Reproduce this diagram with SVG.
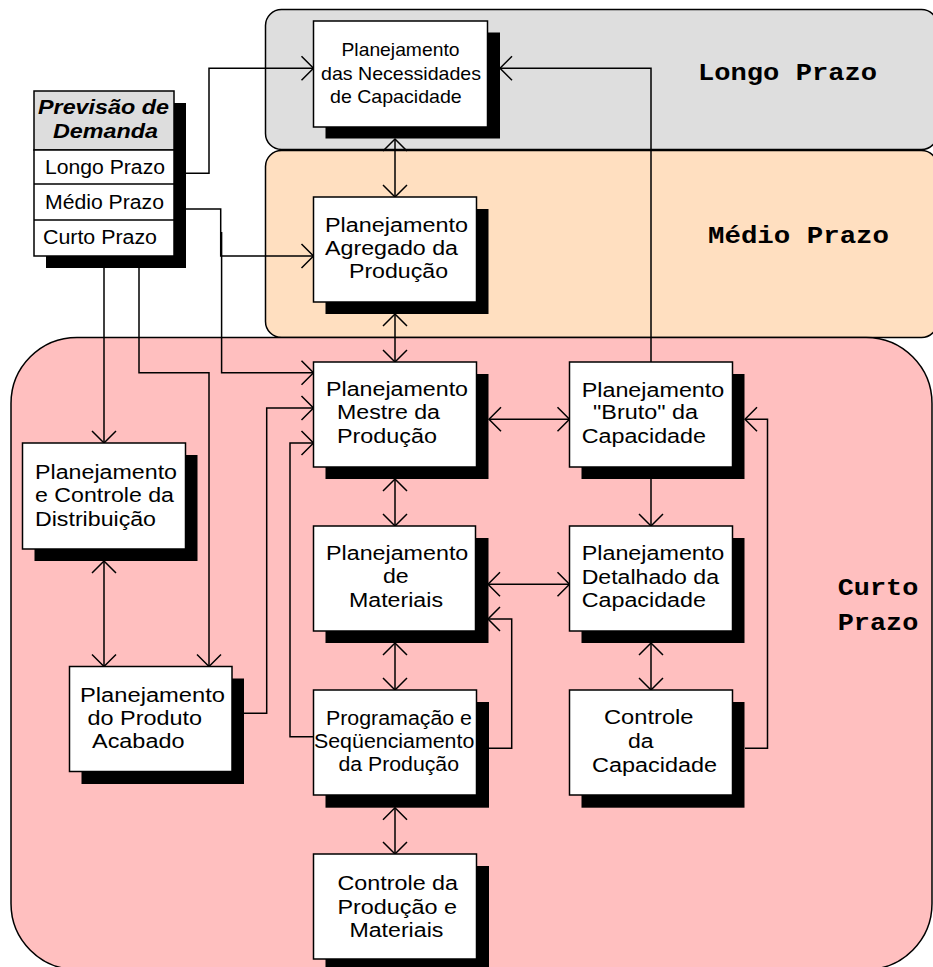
<svg xmlns="http://www.w3.org/2000/svg" width="933" height="967" viewBox="0 0 933 967">
<style>
.band{stroke:#000;stroke-width:1.5}
.box{fill:#fff;stroke:#000;stroke-width:1.5}
.sh{fill:#000}
.t{font-family:"Liberation Sans",Arial,sans-serif;font-size:19.5px;fill:#000}
.ts{font-family:"Liberation Sans",Arial,sans-serif;font-size:18.5px;fill:#000}
.th{font-family:"Liberation Sans",Arial,sans-serif;font-size:19.5px;font-weight:bold;font-style:italic;fill:#000}
.tb{font-family:"Liberation Mono","Courier New",monospace;font-size:24px;font-weight:bold;fill:#000}
.c{fill:none;stroke:#000;stroke-width:1.5}
</style>
<defs>
<marker id="ah" viewBox="-14 -14 16 28" refX="0" refY="0" markerWidth="16" markerHeight="28" markerUnits="userSpaceOnUse" orient="auto-start-reverse">
<path d="M-12,-12 L0,0 L-12,12" fill="none" stroke="#000" stroke-width="1.5"/>
</marker>
</defs>

<g id="bands">
<rect id="band-longo" class="band" x="265.5" y="9.5" width="672" height="140" rx="16" fill="#DEDEDE"/>
<rect id="band-medio" class="band" x="265.5" y="150.5" width="672" height="187" rx="16" fill="#FFDFC0"/>
<rect id="band-curto" class="band" x="11" y="337.5" width="921" height="632" rx="66" fill="#FFBFBF"/>
<text class="tb" x="698" y="80" textLength="179" lengthAdjust="spacingAndGlyphs">Longo Prazo</text>
<text class="tb" x="708" y="243.3" textLength="181" lengthAdjust="spacingAndGlyphs">Médio Prazo</text>
<text class="tb" x="837.7" y="595" textLength="80.6" lengthAdjust="spacingAndGlyphs">Curto</text>
<text class="tb" x="837.7" y="630" textLength="80.6" lengthAdjust="spacingAndGlyphs">Prazo</text>
</g>

<g id="connectors">
<path class="c" d="M186,173.3 H209 V68.3 H313.5" marker-end="url(#ah)"/>
<path class="c" d="M186,209 H220.7 V256 H313.5" marker-end="url(#ah)"/>
<path class="c" d="M221.6,232 V372.7 H313.5" marker-end="url(#ah)"/>
<path class="c" d="M104,268 V443" marker-end="url(#ah)"/>
<path class="c" d="M139,268 V372.7 H209 V666.5" marker-end="url(#ah)"/>
<path class="c" d="M395,139 V197" marker-start="url(#ah)" marker-end="url(#ah)"/>
<path class="c" d="M395,314 V362" marker-start="url(#ah)" marker-end="url(#ah)"/>
<path class="c" d="M651,362 V68.3 H500" marker-end="url(#ah)"/>
<path class="c" d="M489,419.3 H569.5" marker-start="url(#ah)" marker-end="url(#ah)"/>
<path class="c" d="M651,479 V526" marker-end="url(#ah)"/>
<path class="c" d="M395,479 V526" marker-start="url(#ah)" marker-end="url(#ah)"/>
<path class="c" d="M488,584.3 H569.5" marker-start="url(#ah)" marker-end="url(#ah)"/>
<path class="c" d="M244,713.3 H266.7 V408 H313.5" marker-end="url(#ah)"/>
<path class="c" d="M313.5,736.7 H290 V443 H313.5" marker-end="url(#ah)"/>
<path class="c" d="M489,748.3 H511.7 V619 H488" marker-end="url(#ah)"/>
<path class="c" d="M395,643 V690" marker-start="url(#ah)" marker-end="url(#ah)"/>
<path class="c" d="M651,643 V690" marker-start="url(#ah)" marker-end="url(#ah)"/>
<path class="c" d="M745,748.3 H767.5 V419.3 H745" marker-end="url(#ah)"/>
<path class="c" d="M395,807.7 V854" marker-start="url(#ah)" marker-end="url(#ah)"/>
<path class="c" d="M104,561 V666.5" marker-start="url(#ah)" marker-end="url(#ah)"/>
</g>

<g id="previsao">
<rect class="sh" x="46" y="103" width="140" height="165"/>
<rect x="34" y="91" width="140" height="59" fill="#DDDDDD" stroke="#000" stroke-width="1.5"/>
<rect x="34" y="150" width="140" height="106" fill="#fff" stroke="#000" stroke-width="1.5"/>
<line x1="34" y1="184" x2="174" y2="184" stroke="#000" stroke-width="1.5"/>
<line x1="34" y1="220" x2="174" y2="220" stroke="#000" stroke-width="1.5"/>
<text class="th" x="38" y="114" textLength="131" lengthAdjust="spacingAndGlyphs">Previsão de</text>
<text class="th" x="53" y="138" textLength="105" lengthAdjust="spacingAndGlyphs">Demanda</text>
<text class="t" x="45" y="174" textLength="120" lengthAdjust="spacingAndGlyphs">Longo Prazo</text>
<text class="t" x="45" y="209.3" textLength="119" lengthAdjust="spacingAndGlyphs">Médio Prazo</text>
<text class="t" x="43" y="244" textLength="114" lengthAdjust="spacingAndGlyphs">Curto Prazo</text>
</g>

<g id="n-necessidades">
<rect class="sh" x="325.5" y="32.5" width="174.5" height="106"/>
<rect class="box" x="313.5" y="21" width="174" height="106"/>
<text class="ts" x="341.5" y="56" textLength="118" lengthAdjust="spacingAndGlyphs">Planejamento</text>
<text class="ts" x="321" y="79.5" textLength="160" lengthAdjust="spacingAndGlyphs">das Necessidades</text>
<text class="ts" x="330" y="102.5" textLength="131.7" lengthAdjust="spacingAndGlyphs">de Capacidade</text>
</g>

<g id="n-agregado">
<rect class="sh" x="325.5" y="209" width="163" height="105"/>
<rect class="box" x="313.5" y="197" width="163" height="105"/>
<text class="t" x="325" y="231.7" textLength="143" lengthAdjust="spacingAndGlyphs">Planejamento</text>
<text class="t" x="325" y="255" textLength="133" lengthAdjust="spacingAndGlyphs">Agregado da</text>
<text class="t" x="349" y="278.3" textLength="99" lengthAdjust="spacingAndGlyphs">Produção</text>
</g>

<g id="n-mestre">
<rect class="sh" x="325.5" y="374" width="163" height="105"/>
<rect class="box" x="313.5" y="362" width="163" height="105"/>
<text class="t" x="326" y="396" textLength="142" lengthAdjust="spacingAndGlyphs">Planejamento</text>
<text class="t" x="337" y="419" textLength="103" lengthAdjust="spacingAndGlyphs">Mestre da</text>
<text class="t" x="337" y="442.5" textLength="100" lengthAdjust="spacingAndGlyphs">Produção</text>
</g>

<g id="n-bruto">
<rect class="sh" x="581.5" y="374" width="163" height="105"/>
<rect class="box" x="569.5" y="362" width="163" height="105"/>
<text class="t" x="581.7" y="396.7" textLength="142.6" lengthAdjust="spacingAndGlyphs">Planejamento</text>
<text class="t" x="593" y="419.3" textLength="105" lengthAdjust="spacingAndGlyphs">"Bruto" da</text>
<text class="t" x="581.7" y="442.7" textLength="124.3" lengthAdjust="spacingAndGlyphs">Capacidade</text>
</g>

<g id="n-distribuicao">
<rect class="sh" x="34.5" y="455" width="163" height="106"/>
<rect class="box" x="22.5" y="443" width="163" height="106"/>
<text class="t" x="35" y="479" textLength="142" lengthAdjust="spacingAndGlyphs">Planejamento</text>
<text class="t" x="35" y="502" textLength="139" lengthAdjust="spacingAndGlyphs">e Controle da</text>
<text class="t" x="35" y="525.5" textLength="121" lengthAdjust="spacingAndGlyphs">Distribuição</text>
</g>

<g id="n-materiais">
<rect class="sh" x="325.5" y="538" width="163" height="105"/>
<rect class="box" x="313.5" y="526" width="162" height="105"/>
<text class="t" x="326" y="560" textLength="142.3" lengthAdjust="spacingAndGlyphs">Planejamento</text>
<text class="t" x="383" y="583" textLength="25.7" lengthAdjust="spacingAndGlyphs">de</text>
<text class="t" x="349" y="607" textLength="94" lengthAdjust="spacingAndGlyphs">Materiais</text>
</g>

<g id="n-detalhado">
<rect class="sh" x="581.5" y="538" width="163" height="105"/>
<rect class="box" x="569.5" y="526" width="163" height="105"/>
<text class="t" x="581.7" y="560" textLength="142.6" lengthAdjust="spacingAndGlyphs">Planejamento</text>
<text class="t" x="581.7" y="584" textLength="137.3" lengthAdjust="spacingAndGlyphs">Detalhado da</text>
<text class="t" x="581.7" y="607" textLength="124.3" lengthAdjust="spacingAndGlyphs">Capacidade</text>
</g>

<g id="n-acabado">
<rect class="sh" x="81.5" y="678.5" width="162.5" height="105.5"/>
<rect class="box" x="69.5" y="666.5" width="162.5" height="105"/>
<text class="t" x="80" y="701.7" textLength="145" lengthAdjust="spacingAndGlyphs">Planejamento</text>
<text class="t" x="87.5" y="725" textLength="114.5" lengthAdjust="spacingAndGlyphs">do Produto</text>
<text class="t" x="92" y="748.3" textLength="92.5" lengthAdjust="spacingAndGlyphs">Acabado</text>
</g>

<g id="n-programacao">
<rect class="sh" x="325.5" y="702" width="163.5" height="105.7"/>
<rect class="box" x="313.5" y="690" width="163" height="105"/>
<text class="t" x="326" y="724.5" textLength="146" lengthAdjust="spacingAndGlyphs">Programação e</text>
<text class="t" x="314" y="748.3" textLength="160.3" lengthAdjust="spacingAndGlyphs">Seqüenciamento</text>
<text class="t" x="338.5" y="771" textLength="120.5" lengthAdjust="spacingAndGlyphs">da Produção</text>
</g>

<g id="n-controle-cap">
<rect class="sh" x="581.5" y="702" width="163" height="105.7"/>
<rect class="box" x="569.5" y="690" width="163" height="105"/>
<text class="t" x="604" y="724" textLength="89.5" lengthAdjust="spacingAndGlyphs">Controle</text>
<text class="t" x="628" y="748.3" textLength="25.6" lengthAdjust="spacingAndGlyphs">da</text>
<text class="t" x="592" y="771.7" textLength="125" lengthAdjust="spacingAndGlyphs">Capacidade</text>
</g>

<g id="n-controle-prod">
<rect class="sh" x="325.5" y="866" width="163.5" height="105"/>
<rect class="box" x="313.5" y="854" width="163" height="105"/>
<text class="t" x="337.5" y="890" textLength="120.5" lengthAdjust="spacingAndGlyphs">Controle da</text>
<text class="t" x="337.5" y="914" textLength="119.5" lengthAdjust="spacingAndGlyphs">Produção e</text>
<text class="t" x="349.4" y="936.5" textLength="94" lengthAdjust="spacingAndGlyphs">Materiais</text>
</g>
</svg>
